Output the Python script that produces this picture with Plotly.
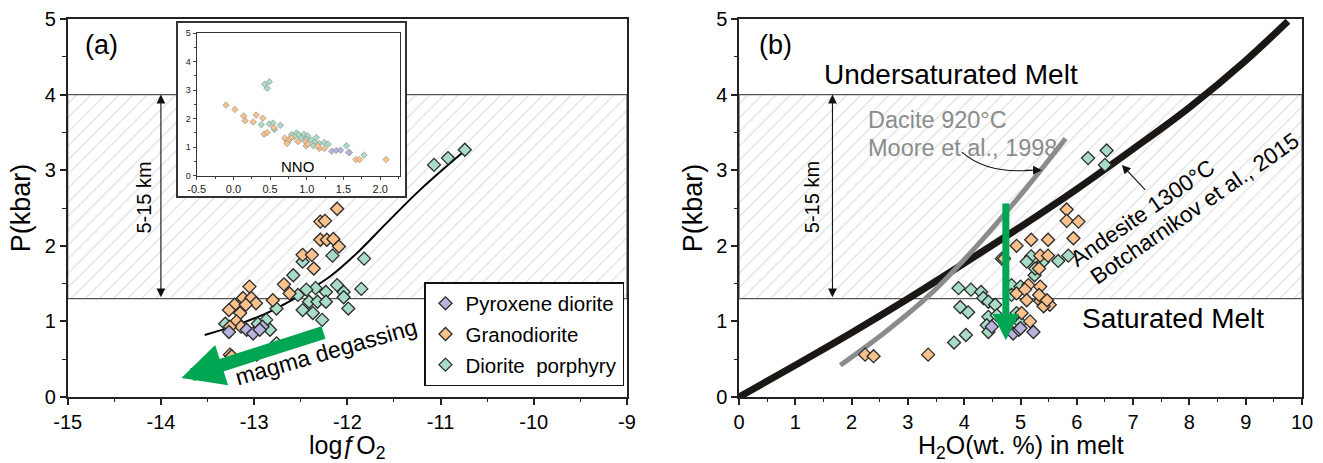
import plotly.graph_objects as go

FONT = "Liberation Sans, Arial, sans-serif"
W, H = 1323, 463

# ---------------- data ----------------
SERIES_NAMES = ["Pyroxene diorite", "Granodiorite", "Diorite  porphyry"]
SERIES_COLORS = ["#b8b2df", "#f9c18c", "#a8dcc6"]

# Panel (a): log fO2 vs P(kbar)
PYX_A_X = [-13.27, -13.08, -13.01, -12.91, -12.94]
PYX_A_Y = [0.86, 0.89, 0.84, 0.93, 0.89]
GRD_A_X = [-12.11, -12.29, -12.24, -12.29, -12.22, -12.15, -12.09, -12.48, -12.38, -12.36,
           -12.68, -12.62, -12.80, -13.05, -13.12, -13.03, -12.98, -13.21, -13.27, -13.15,
           -13.09, -13.19, -13.14, -13.26, -13.26, -13.24, -12.97]
GRD_A_Y = [2.49, 2.32, 2.33, 2.08, 2.08, 2.09, 1.99, 1.88, 1.88, 1.70,
           1.49, 1.37, 1.28, 1.46, 1.31, 1.31, 1.24, 1.22, 1.15, 1.11,
           1.22, 1.00, 0.93, 0.93, 0.56, 0.54, 0.56]
DPO_A_X = [-11.07, -10.92, -10.74, -11.82, -11.85, -12.16, -12.48, -12.58, -12.11, -12.34,
           -12.44, -12.53, -12.23, -12.04, -12.04, -11.99, -12.41, -12.32, -12.23, -12.48,
           -12.37, -12.27, -12.76, -12.87, -12.83, -12.76, -12.96, -13.31]
DPO_A_Y = [3.07, 3.16, 3.27, 1.83, 1.43, 1.87, 1.79, 1.61, 1.48, 1.44,
           1.42, 1.35, 1.39, 1.39, 1.32, 1.17, 1.26, 1.26, 1.26, 1.15,
           1.11, 1.02, 1.17, 1.02, 0.89, 0.71, 0.97, 0.97]
FIT_A_X = [-13.53, -13.19, -12.83, -12.47, -12.19, -11.90, -11.58, -11.22, -10.71]
FIT_A_Y = [0.82, 0.95, 1.13, 1.37, 1.59, 1.90, 2.30, 2.74, 3.29]

# Inset: NNO vs P(kbar)
PYX_I_X = [1.34, 1.40, 1.46, 1.57]
PYX_I_Y = [0.85, 0.88, 0.89, 0.81]
GRD_I_X = [-0.10, 0.02, 0.14, 0.16, 0.27, 0.31, 0.40, 0.42, 0.46, 0.55, 0.70, 0.74, 0.76,
           0.79, 0.73, 0.88, 0.98, 0.99, 1.01, 1.17, 1.24, 1.15, 1.67, 1.72, 2.08]
GRD_I_Y = [2.47, 2.32, 2.09, 1.92, 1.88, 2.12, 2.01, 1.45, 1.51, 1.68, 1.31, 1.19, 1.26,
           1.33, 1.12, 1.19, 1.19, 1.04, 1.10, 0.95, 0.95, 1.04, 0.56, 0.56, 0.56]
DPO_I_X = [0.425, 0.49, 0.46, 0.38, 0.49, 0.54, 0.64, 0.56, 0.79, 0.86, 0.89, 0.96, 1.01,
           0.83, 0.92, 0.99, 1.06, 1.13, 1.11, 1.17, 1.24, 1.29, 1.09, 1.54, 1.58, 1.78]
DPO_I_Y = [3.20, 3.29, 3.06, 1.78, 1.81, 1.84, 1.76, 1.61, 1.43, 1.49, 1.43, 1.45, 1.39,
           1.36, 1.31, 1.27, 1.24, 1.33, 1.16, 1.12, 1.16, 1.10, 1.04, 1.04, 0.81, 0.72]

# Panel (b): H2O in melt vs P(kbar)
PYX_B_X = [4.49, 4.87, 4.97, 5.23, 5.00]
PYX_B_Y = [0.93, 0.84, 0.89, 0.86, 0.91]
GRD_B_X = [5.82, 5.82, 6.03, 5.94, 5.49, 5.19, 4.93, 5.35, 5.49, 5.33, 5.14, 5.35, 4.93,
           5.08, 5.11, 5.35, 5.43, 5.52, 5.41, 5.02, 5.17, 4.71, 2.24, 2.39, 3.36, 5.47, 5.33]
GRD_B_Y = [2.48, 2.33, 2.32, 2.10, 2.08, 2.08, 2.00, 1.87, 1.87, 1.70, 1.48, 1.46, 1.37,
           1.42, 1.28, 1.27, 1.22, 1.22, 1.20, 1.11, 1.00, 1.83, 0.56, 0.54, 0.56, 1.28, 1.35]
DPO_B_X = [6.20, 6.53, 6.50, 5.85, 5.67, 5.40, 5.19, 5.11, 5.25, 5.26, 3.90, 4.12, 4.30,
           4.34, 4.43, 4.55, 4.84, 5.00, 4.84, 3.93, 4.07, 4.43, 4.58, 4.40, 4.03, 3.82,
           4.43, 4.93, 5.00, 4.67]
DPO_B_Y = [3.16, 3.26, 3.07, 1.87, 1.80, 1.79, 1.86, 1.79, 1.61, 1.70, 1.44, 1.42, 1.39,
           1.31, 1.26, 1.22, 1.48, 1.46, 1.35, 1.19, 1.12, 1.06, 1.08, 0.95, 0.82, 0.72,
           0.86, 1.11, 0.98, 1.83]
DACITE_X = [1.80, 2.60, 3.40, 4.20, 5.00, 5.80]
DACITE_Y = [0.42, 0.86, 1.36, 1.98, 2.67, 3.42]
ANDESITE_X = [0, 1, 2, 3, 4, 5, 6, 7, 8, 9, 9.75]
ANDESITE_Y = [0, 0.42, 0.85, 1.30, 1.77, 2.25, 2.75, 3.28, 3.83, 4.45, 4.97]

BAND = [1.3, 4.0]          # 5-15 km depth band (kbar)
X_RANGE_A = [-15, -9]
X_RANGE_B = [0, 10]
Y_RANGE = [0, 5]
X_TICKS_A = [-15, -14, -13, -12, -11, -10, -9]
X_TICKS_B = list(range(0, 11))
Y_TICKS = [0, 1, 2, 3, 4, 5]
X_TICKS_I = [-0.5, 0.0, 0.5, 1.0, 1.5, 2.0]
X_RANGE_I = [-0.5, 2.27]

# ---------------- figure ----------------
fig = go.Figure()

def band_trace(xr, xa, ya):
    return go.Scatter(
        x=[xr[0], xr[1], xr[1], xr[0], xr[0]],
        y=[BAND[0], BAND[0], BAND[1], BAND[1], BAND[0]],
        mode="lines", fill="toself", fillcolor="white",
        fillpattern=dict(shape="/", fgcolor="#b4b4b4", bgcolor="white", size=10, solidity=0.1),
        line=dict(color="#555555", width=1.2), hoverinfo="skip", showlegend=False,
        xaxis=xa, yaxis=ya)

fig.add_trace(band_trace(X_RANGE_A, "x", "y"))
fig.add_trace(band_trace(X_RANGE_B, "x2", "y2"))

fig.add_trace(go.Scatter(x=FIT_A_X, y=FIT_A_Y, mode="lines", line=dict(color="black", width=2, shape="spline"),
                         showlegend=False, hoverinfo="skip", xaxis="x", yaxis="y"))

def pts(x, y, i, xa, ya, legend=False, size=10, lw=1.3, lc="#2b2b2b"):
    return go.Scatter(x=x, y=y, mode="markers", name=SERIES_NAMES[i],
                      marker=dict(symbol="diamond", size=size, color=SERIES_COLORS[i],
                                  line=dict(color=lc, width=lw)),
                      showlegend=legend, legendgroup=f"g{i}", legendrank=i + 1,
                      xaxis=xa, yaxis=ya, cliponaxis=False)

fig.add_trace(pts(DPO_A_X, DPO_A_Y, 2, "x", "y", True))
fig.add_trace(pts(GRD_A_X, GRD_A_Y, 1, "x", "y", True))
fig.add_trace(pts(PYX_A_X, PYX_A_Y, 0, "x", "y", True))

# Panel b curves and points
fig.add_trace(go.Scatter(x=ANDESITE_X, y=ANDESITE_Y, mode="lines",
                         line=dict(color="#1a1714", width=7, shape="spline"),
                         showlegend=False, hoverinfo="skip", xaxis="x2", yaxis="y2"))
fig.add_trace(go.Scatter(x=DACITE_X, y=DACITE_Y, mode="lines",
                         line=dict(color="#8a8c8c", width=5, shape="spline"),
                         showlegend=False, hoverinfo="skip", xaxis="x2", yaxis="y2"))
fig.add_trace(pts(DPO_B_X, DPO_B_Y, 2, "x2", "y2"))
fig.add_trace(pts(GRD_B_X, GRD_B_Y, 1, "x2", "y2"))
fig.add_trace(pts(PYX_B_X, PYX_B_Y, 0, "x2", "y2"))

# Inset frame (white box) subplot x3/y3
fig.add_trace(go.Scatter(x=[0, 1, 1, 0, 0], y=[0, 0, 1, 1, 0], mode="lines", fill="toself",
                         fillcolor="white", line=dict(color="white", width=0),
                         showlegend=False, hoverinfo="skip", xaxis="x3", yaxis="y3"))
# Inset points subplot x4/y4
fig.add_trace(pts(DPO_I_X, DPO_I_Y, 2, "x4", "y4", size=5, lw=0.6, lc="#888888"))
fig.add_trace(pts(GRD_I_X, GRD_I_Y, 1, "x4", "y4", size=5, lw=0.6, lc="#888888"))
fig.add_trace(pts(PYX_I_X, PYX_I_Y, 0, "x4", "y4", size=5, lw=0.6, lc="#888888"))

# ---------------- axes ----------------
DOM_AX = [67.7 / W, 627 / W]
DOM_BX = [739 / W, 1302 / W]
DOM_Y = [1 - 397 / H, 1 - 19 / H]

def main_axis(rng, ticks, dom, anchor, title=None, minor=0.5):
    d = dict(range=rng, domain=dom, anchor=anchor, tickvals=ticks,
             ticktext=[str(t) for t in ticks], automargin=False,
             showline=True, mirror=True, linecolor="#222222", linewidth=1.5,
             ticks="outside", ticklen=6, tickwidth=1.5, tickcolor="#222222",
             minor=dict(dtick=minor, ticks="outside", ticklen=3.5, tickwidth=1.2, tickcolor="#222222"),
             showgrid=False, zeroline=False,
             tickfont=dict(family=FONT, size=20, color="black"))
    if title:
        d["title"] = dict(text=title, font=dict(family=FONT, size=27, color="black"), standoff=6)
    return d

def plain_axis(**kw):
    d = dict(automargin=False, showgrid=False, zeroline=False, showline=True, mirror=True)
    d.update(kw)
    return d

layout = dict(
    width=W, height=H, margin=dict(l=0, r=0, t=0, b=0, autoexpand=False),
    paper_bgcolor="white", plot_bgcolor="white",
    font=dict(family=FONT, color="black"),
    xaxis=main_axis(X_RANGE_A, X_TICKS_A, DOM_AX, "y"),
    yaxis=main_axis(Y_RANGE, Y_TICKS, DOM_Y, "x", "P(kbar)"),
    xaxis2=main_axis(X_RANGE_B, X_TICKS_B, DOM_BX, "y2"),
    yaxis2=main_axis(Y_RANGE, Y_TICKS, DOM_Y, "x2", "P(kbar)"),
    xaxis3=plain_axis(range=[0, 1], domain=[178 / W, 405 / W], anchor="y3",
                      linecolor="#333333", linewidth=1.5, showticklabels=False, ticks="", fixedrange=True),
    yaxis3=plain_axis(range=[0, 1], domain=[1 - 196 / H, 1 - 23 / H], anchor="x3",
                      linecolor="#333333", linewidth=1.5, showticklabels=False, ticks="", fixedrange=True),
    xaxis4=plain_axis(range=X_RANGE_I, domain=[196.7 / W, 400 / W], anchor="y4",
                      linecolor="#333333", linewidth=1.2, tickvals=X_TICKS_I,
                      ticktext=[f"{t:.1f}" for t in X_TICKS_I], ticks="outside", ticklen=3,
                      minor=dict(dtick=0.25, ticks="outside", ticklen=2),
                      tickfont=dict(family=FONT, size=11, color="#222222")),
    yaxis4=plain_axis(range=Y_RANGE, domain=[1 - 175.5 / H, 1 - 33 / H], anchor="x4",
                      linecolor="#333333", linewidth=1.2, tickvals=Y_TICKS, ticks="outside", ticklen=3,
                      minor=dict(dtick=0.5, ticks="outside", ticklen=2),
                      tickfont=dict(family=FONT, size=9, color="#222222")),
    legend=dict(x=424 / W, y=1 - 282 / H, xanchor="left", yanchor="top",
                bgcolor="white", bordercolor="#111111", borderwidth=1.5,
                font=dict(family=FONT, size=20.5, color="black"),
                traceorder="grouped", tracegroupgap=1, itemwidth=30),
)
fig.update_layout(**layout)

# ---------------- annotations ----------------
GREEN = "#00a651"
ann = []
def txt(x, y, text, xref, yref, size, color="black", angle=0, **kw):
    ann.append(dict(x=x, y=y, xref=xref, yref=yref, text=text, showarrow=False, textangle=angle,
                    font=dict(family=FONT, size=size, color=color), **kw))

# x-axis titles (placed below tick labels)
TITLE_MID = 1 - 446.5 / H
txt(sum(DOM_AX) / 2, TITLE_MID, "logƒO<sub>2</sub>", "paper", "paper", 25,
    xanchor="center", yanchor="middle", borderpad=0)
txt(sum(DOM_BX) / 2, TITLE_MID, "H<sub>2</sub>O(wt. %) in melt", "paper", "paper", 25,
    xanchor="center", yanchor="middle", borderpad=0)

txt(-14.64, 4.66, "(a)", "x", "y", 27)
txt(0.64, 4.66, "(b)", "x2", "y2", 27)
# depth arrows
for xa, ya, xpos in (("x", "y", -14.0), ("x2", "y2", 1.66)):
    ann.append(dict(x=xpos, y=BAND[1], ax=xpos, ay=BAND[0], xref=xa, yref=ya, axref=xa, ayref=ya,
                    showarrow=True, arrowhead=2, startarrowhead=2, arrowside="end+start",
                    arrowsize=1.6, startarrowsize=1.6, arrowwidth=1.1, arrowcolor="#111111",
                    standoff=0, startstandoff=0, text=""))
txt(-14.18, 2.64, "5-15 km", "x", "y", 20, angle=-90)
txt(1.31, 2.64, "5-15 km", "x2", "y2", 20, angle=-90)

# magma degassing arrow
ann.append(dict(x=-13.78, y=0.25, ax=-12.24, ay=0.86, xref="x", yref="y", axref="x", ayref="y",
                showarrow=True, arrowhead=2, arrowsize=0.65, arrowwidth=13, arrowcolor=GREEN,
                standoff=0, text=""))
txt(-12.23, 0.60, "magma degassing", "x", "y", 23, angle=-16)

# inset labels
txt(-0.585, 2.66, "P(kbar)", "x4", "y4", 12, angle=-90)
txt(0.88, 0.30, "NNO", "x4", "y4", 15)

# panel b labels
txt(3.77, 4.27, "Undersaturated Melt", "x2", "y2", 28)
txt(7.70, 1.04, "Saturated Melt", "x2", "y2", 28)
txt(2.26, 3.67, "Dacite 920°C", "x2", "y2", 23.5, color="#8a8c8c", xanchor="left")
txt(2.26, 3.30, "Moore et al., 1998", "x2", "y2", 23.5, color="#8a8c8c", xanchor="left")
txt(7.16, 2.43, "Andesite 1300°C", "x2", "y2", 22.5, angle=-34.7)
txt(8.10, 2.49, "Botcharnikov et al., 2015", "x2", "y2", 22.5, angle=-34.7)
# arrow to andesite curve
ann.append(dict(x=6.80, y=3.07, ax=7.24, ay=2.72, xref="x2", yref="y2", axref="x2", ayref="y2",
                showarrow=True, arrowhead=2, arrowsize=1.6, arrowwidth=1.1, arrowcolor="#111111",
                standoff=0, text=""))
# arrow head for curved Moore arrow
ann.append(dict(x=5.38, y=3.0, ax=5.05, ay=3.0, xref="x2", yref="y2", axref="x2", ayref="y2",
                showarrow=True, arrowhead=2, arrowsize=1.6, arrowwidth=1.1, arrowcolor="#111111",
                standoff=0, text=""))
# green degassing arrow (panel b)
ann.append(dict(x=4.74, y=0.75, ax=4.74, ay=2.58, xref="x2", yref="y2", axref="x2", ayref="y2",
                showarrow=True, arrowhead=2, arrowsize=0.75, arrowwidth=7, arrowcolor=GREEN,
                standoff=0, text=""))
fig.update_layout(annotations=ann)

fig.add_shape(type="path", xref="x2", yref="y2", layer="above",
              path="M 3.96,3.24 Q 4.4,2.95 5.2,3.0", line=dict(color="#111111", width=1.1))

fig.write_html("out.html")
